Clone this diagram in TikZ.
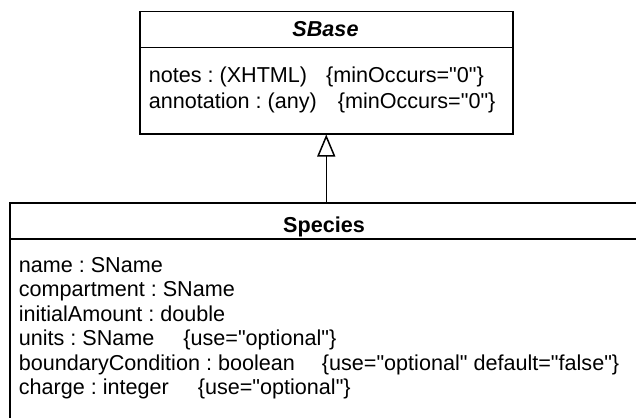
\documentclass[tikz,border=0pt]{standalone}
\usepackage{fontspec}
\setmainfont{Liberation Sans}[Ligatures=TeXOff]
\usetikzlibrary{arrows.meta}
\begin{document}
\frenchspacing
\begin{tikzpicture}[x=1pt,y=1pt, line width=1.5pt,
  txt/.style={anchor=base west, inner sep=0pt, font=\fontsize{21.6}{24.5}\selectfont},
  ttl/.style={anchor=base, inner sep=0pt, font=\fontsize{21.6}{24.5}\selectfont\bfseries},
  compart/.style={draw, rectangle, inner sep=0pt, anchor=north west}]
\useasboundingbox (0,0) rectangle (636,-417);
\clip (0,0) rectangle (636,-417);
% SBase class
\node[compart, minimum width=373pt, minimum height=36pt] (sbhead) at (139,-11) {};
\node[compart, minimum width=373pt, minimum height=86pt] (sbbody) at (139,-47) {};
\node[ttl, font=\fontsize{21.6}{24.5}\selectfont\bfseries\itshape] (sbtitle) at (325.5,-37) {SBase};
\node[txt] (sb1) at (148,-83) {notes : (XHTML)\hspace{19pt}\{minOccurs="0"\}};
\node[txt] (sb2) at (148,-108) {annotation : (any)\hspace{21pt}\{minOccurs="0"\}};
% Species class
\node[compart, minimum width=630pt, minimum height=36pt] (sphead) at (9,-202) {};
\node[compart, minimum width=630pt, minimum height=200pt] (spbody) at (9,-238) {};
\node[ttl] (sptitle) at (324,-232) {Species};
\node[txt] (sp1) at (18,-272) {name : SName};
\node[txt] (sp2) at (18,-296.5) {compartment : SName};
\node[txt] (sp3) at (18,-321) {initialAmount : double};
\node[txt] (sp4) at (18,-345.5) {units : SName\hspace{29pt}\{use="optional"\}};
\node[txt] (sp5) at (18,-370) {boundaryCondition : boolean\hspace{27pt}\{use="optional" default="false"\}};
\node[txt] (sp6) at (18,-394.5) {charge : integer\hspace{29pt}\{use="optional"\}};
% generalization
\draw[-{Triangle[open,length=22pt,width=18pt]}] (sbbody.south |- sphead.north) -- (sbbody.south);
\end{tikzpicture}
\end{document}
